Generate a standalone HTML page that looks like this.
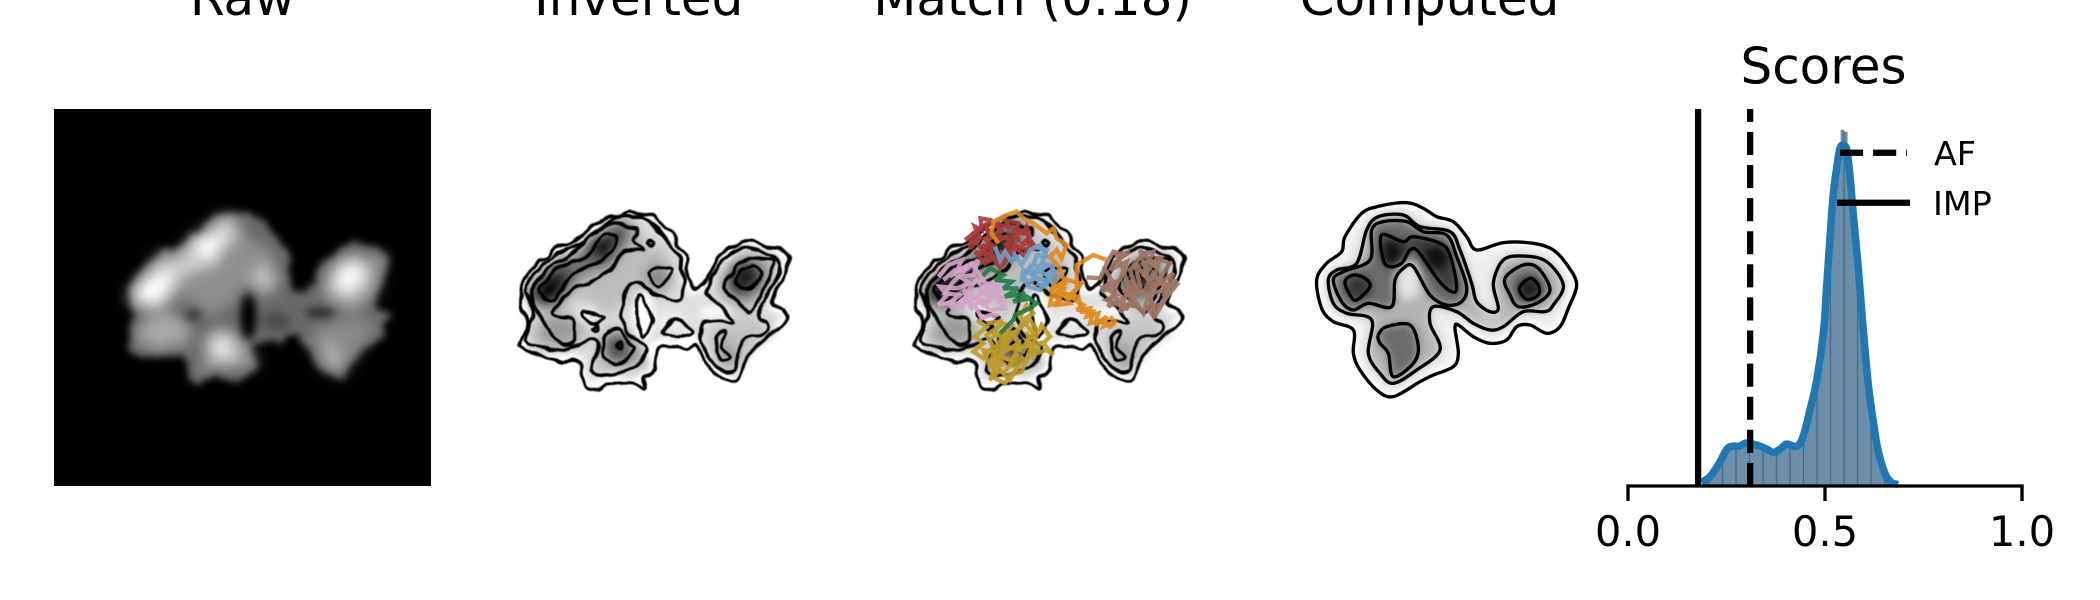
<!DOCTYPE html>
<html lang="en">
<head>
<meta charset="utf-8">
<title>Density map comparison</title>
<style>
html,body{margin:0;padding:0;background:#fff;width:2100px;height:600px;overflow:hidden}
svg{display:block}
text{font-family:"DejaVu Sans","Liberation Sans",sans-serif;fill:#000}
.ct{fill:none;stroke:#000;stroke-width:10;stroke-linejoin:round}
.tr{fill:none;stroke-width:13;stroke-linejoin:miter;stroke-miterlimit:3;opacity:.9}
</style>
</head>
<body>
<svg id="figure" xmlns="http://www.w3.org/2000/svg" width="2100" height="600" viewBox="0 0 2100 600">
<defs>
  <filter id="blur-edge" filterUnits="userSpaceOnUse" x="-1000" y="-1000" width="6000" height="4000" color-interpolation-filters="sRGB">
    <feTurbulence type="fractalNoise" baseFrequency="0.025" numOctaves="2" seed="4" result="n"/>
    <feDisplacementMap in="SourceGraphic" in2="n" scale="50" xChannelSelector="R" yChannelSelector="G"/>
    <feGaussianBlur stdDeviation="11"/>
  </filter>
  <filter id="blur-light" filterUnits="userSpaceOnUse" x="-1000" y="-1000" width="6000" height="4000" color-interpolation-filters="sRGB">
    <feTurbulence type="fractalNoise" baseFrequency="0.022" numOctaves="2" seed="9" result="n"/>
    <feDisplacementMap in="SourceGraphic" in2="n" scale="70" xChannelSelector="R" yChannelSelector="G"/>
    <feGaussianBlur stdDeviation="22"/>
  </filter>
  <filter id="blur-dark" filterUnits="userSpaceOnUse" x="-1000" y="-1000" width="6000" height="4000" color-interpolation-filters="sRGB"><feGaussianBlur stdDeviation="13"/></filter>
  <filter id="blur-comp" filterUnits="userSpaceOnUse" x="-1000" y="-1000" width="6000" height="4000" color-interpolation-filters="sRGB"><feGaussianBlur stdDeviation="14"/></filter>
  <filter id="wiggle" filterUnits="userSpaceOnUse" x="-100" y="-100" width="1300" height="1000" color-interpolation-filters="sRGB">
    <feTurbulence type="fractalNoise" baseFrequency="0.028" numOctaves="1" seed="7" result="n"/>
    <feDisplacementMap in="SourceGraphic" in2="n" scale="20" xChannelSelector="R" yChannelSelector="G"/>
    <feGaussianBlur stdDeviation="1.4"/>
  </filter>
  <filter id="invert-map" filterUnits="userSpaceOnUse" x="-2000" y="-500" width="6000" height="2000" color-interpolation-filters="sRGB">
    <feComponentTransfer>
      <feFuncR type="gamma" amplitude="-1" exponent="2.3" offset="1"/>
      <feFuncG type="gamma" amplitude="-1" exponent="2.3" offset="1"/>
      <feFuncB type="gamma" amplitude="-1" exponent="2.3" offset="1"/>
    </feComponentTransfer>
  </filter>
  <g id="density-map">
    <rect x="54" y="109" width="377" height="377" fill="#000"/>
    <g transform="scale(.33333)">
      <g filter="url(#blur-edge)">
        <polygon fill="#686868" points="385,870 420,810 480,755 560,725 600,685 660,650 710,640 780,655 830,710 870,770 865,840 895,880 930,870 960,790 1020,755 1080,730 1165,765 1150,830 1125,930 1165,950 1150,1000 1100,1040 1050,1090 1020,1135 960,1110 920,1040 900,1000 850,1025 780,1030 750,1020 770,1100 720,1140 620,1130 590,1160 560,1090 540,1065 440,1070 385,1045 395,960 395,900"/>
      </g>
      <g filter="url(#blur-light)">
        <polygon fill="#8e8e8e" points="420,850 600,700 720,680 830,780 830,880 740,860 650,950 560,900 420,920"/>
        <polyline fill="none" stroke="#cfcfcf" stroke-width="85" stroke-linecap="round" points="440,880 520,810 610,750 680,695"/>
        <ellipse cx="465" cy="868" rx="52" ry="42" fill="#fff" transform="rotate(-30 465 868)"/>
        <ellipse cx="625" cy="735" rx="48" ry="46" fill="#fff"/>
        <polygon fill="#a2a2a2" points="960,830 1040,770 1150,770 1130,880 1060,930 980,910"/>
        <ellipse cx="1052" cy="835" rx="42" ry="62" fill="#f6f6f6" transform="rotate(35 1052 835)"/>
        <polygon fill="#8a8a8a" points="930,970 1130,960 1090,1030 1020,1110 960,1090"/>
        <ellipse cx="985" cy="1070" rx="24" ry="36" fill="#c4c4c4"/>
        <polygon fill="#a0a0a0" points="640,990 720,1000 760,1090 590,1120"/>
        <ellipse cx="670" cy="1040" rx="38" ry="52" fill="#e6e6e6"/>
        <ellipse cx="490" cy="990" rx="82" ry="52" fill="#aaa"/>
        <ellipse cx="790" cy="830" rx="40" ry="44" fill="#c0c0c0"/>
      </g>
      <g filter="url(#blur-dark)">
        <ellipse cx="745" cy="950" rx="24" ry="70" fill="#000"/>
        <ellipse cx="580" cy="945" rx="26" ry="16" fill="#3a3a3a"/>
        <ellipse cx="960" cy="938" rx="46" ry="15" fill="#2c2c2c"/>
        <ellipse cx="830" cy="965" rx="44" ry="30" fill="#4e4e4e"/>
      </g>
    </g>
  </g>
  <g id="inverted-contours" filter="url(#wiggle)">
    <path class="ct" data-pts="90,320 105,295 140,250 165,235 200,205 240,190 270,172 300,145 350,112 385,110 420,95 455,105 490,105 520,140 550,160 565,195 590,235 590,290 615,325 650,300 670,260 700,215 745,195 780,180 830,200 870,205 895,235 880,290 860,325 850,370 885,395 890,420 860,450 810,490 770,530 750,590 720,600 680,585 650,555 620,500 590,505 550,500 500,510 495,570 465,590 460,625 430,610 380,610 345,615 320,630 290,620 275,590 265,540 210,545 160,530 130,520 95,505 90,490 115,425 95,385 95,345"/>
    <path class="ct" data-pts="108,320 150,262 210,218 285,182 360,122 420,110 480,125 530,180 570,240 580,345 550,360 490,340 440,305 410,330 395,400 420,465 470,500 455,540 400,575 340,585 305,570 325,500 300,480 220,510 160,500 110,480 130,400 110,345"/>
    <path class="ct" data-pts="650,330 700,240 770,205 860,240 870,270 840,330 805,410 835,430 825,460 760,480 730,570 680,560 640,500 635,460 650,420 730,425 660,350"/>
    <path class="ct" data-pts="125,330 170,270 240,225 310,160 370,132 440,150 430,180 460,210 400,215 360,270 300,310 250,325 190,390 210,410 250,420 250,485 210,490 170,440 130,370"/>
    <path class="ct" data-pts="150,320 220,255 290,230 340,165 375,170 370,210 320,250 250,280 190,360 155,345"/>
    <path class="ct" data-pts="705,310 760,240 830,240 850,255 810,350 780,395 740,360 710,340"/>
    <path class="ct" data-pts="735,295 785,258 815,285 770,330"/>
    <path class="ct" data-pts="345,470 385,445 420,490 430,510 385,550 340,530"/>
    <path class="ct" data-pts="380,498 395,490 395,505"/>
    <path class="ct" data-pts="480,280 510,265 545,270 520,315 495,315"/>
    <path class="ct" data-pts="474,190 482,184 491,192 484,201"/>
    <path class="ct" data-pts="525,450 555,415 610,455 565,470 525,460"/>
    <path class="ct" data-pts="680,470 705,460 695,500 720,530 700,545 685,520"/>
    <path class="ct" data-pts="440,360 455,352 475,390 490,430 460,470 445,440"/>
    <path class="ct" data-pts="280,395 340,410 320,430 285,415"/>
    <path class="ct" data-pts="308,445 320,438 322,450 312,452"/>
  </g>
</defs>

<text x="242.5" y="15" font-size="50" text-anchor="middle">Raw</text>
<text x="638.7" y="15" font-size="50" text-anchor="middle">Inverted</text>
<text x="1032.6" y="15" font-size="50" text-anchor="middle">Match (0.18)</text>
<text x="1429.5" y="15" font-size="50" text-anchor="middle">Computed</text>
<text x="1823.5" y="83.5" font-size="50" text-anchor="middle">Scores</text>

<g><use href="#density-map"/></g>

<g>
  <g transform="translate(395,0)" filter="url(#invert-map)"><use href="#density-map"/></g>
  <g transform="translate(490,180) scale(.33333)"><use href="#inverted-contours"/></g>
</g>

<g>
  <g transform="translate(790,0)" filter="url(#invert-map)"><use href="#density-map"/></g>
  <g transform="translate(885,180) scale(.33333)"><use href="#inverted-contours"/></g>
  <g transform="translate(890,180) scale(.33333)">
    <polyline class="tr" stroke="#bc9a28" points="260,420 290,440 255,470 280,490 250,515 280,535 310,500 290,465 340,430 360,440 325,470 370,460 345,500 390,510 375,470 400,420 430,400 410,375 390,410 430,460 410,490 440,520 470,510 490,525 460,490 480,470 455,435 420,510 395,575 360,585 345,610 315,595 310,565 340,550 310,525 360,540 385,520 340,580 300,545 325,490 370,430"/>
    <polyline class="tr" stroke="#bc9a28" points="290,430 330,425 310,470 355,450 335,520 385,490 365,560 400,530 360,600 330,570 300,600 330,520 280,510 300,560 345,480 395,440 420,420 440,450 400,500 450,490 430,530 410,455"/>
    <polyline class="tr" stroke="#217c48" points="275,290 300,265 340,285 315,300 365,305 340,325 385,325 345,350 405,340 370,365 420,355 400,345 440,370 420,385 375,405 370,420 330,460"/>
    <polyline class="tr" stroke="#d4a2c8" points="145,290 175,255 215,240 200,275 235,260 265,240 250,285 210,290 240,310 200,325 150,320 170,345 145,375 190,365 180,385 225,355 245,385 270,360 300,390 345,385 320,345 330,320 290,310 270,335 305,350 280,375 240,340 220,330 265,395 275,415 300,405 325,405"/>
    <polyline class="tr" stroke="#d4a2c8" points="160,300 195,270 225,270 190,305 165,340 210,345 175,370 215,385 235,330 260,300 285,330 255,355 295,365 320,330 340,365 300,330 245,250 215,265 180,290"/>
    <polyline class="tr" stroke="#a83a3a" points="225,180 245,165 240,205 270,175 255,140 275,150 272,115 300,120 290,145 310,165 285,175 305,195 270,200 290,225 255,215 285,250 310,235 330,265 350,240 330,215 365,230 345,190 375,205 350,165 385,180 370,145 400,160 410,140 420,170 395,195 430,185 410,210 375,195 345,170 320,185 335,150 310,130"/>
    <polyline class="tr" stroke="#a83a3a" points="240,175 265,190 250,160 285,135 300,170 330,155 320,130 360,145 345,120 385,130 375,165 405,150 430,200 400,225 380,205 350,215 320,245 300,215 320,200 280,205 300,240"/>
    <polyline class="tr" stroke="#6fa0c8" points="315,200 330,240 345,215 365,245 375,225 395,255 410,230 420,210 450,195 470,230 440,225 430,255 460,265 430,285 400,270 395,300 425,305 440,270 470,285 495,270 465,320 440,310"/>
    <polyline class="tr" stroke="#6fa0c8" points="430,200 470,210 455,250 490,260 470,300 440,295 420,260 400,290 415,320 450,330 470,300"/>
    <polyline class="tr" stroke="#e08a1e" points="325,190 305,160 310,125 350,105 380,95 400,115 430,130 470,160 490,145 500,175 530,195 515,235 500,210 480,230 510,265 525,310 490,320 480,375 510,365 490,340 540,345 560,325 560,255 610,225 650,240"/>
    <polyline class="tr" stroke="#e08a1e" points="480,330 530,300 575,310 540,350 580,375 560,390 600,385 590,410 625,400 615,435 650,410 640,440 675,425 660,410"/>
    <polyline class="tr" stroke="#e08a1e" points="500,335 525,320 500,375 540,370 520,340 565,350 575,395 610,395 600,430 640,420 660,440 675,430"/>
    <polyline class="tr" stroke="#9d7565" points="590,292 630,295 650,250 670,215 700,225 660,270 710,245 690,300 640,320 680,345 650,360 710,385 740,330 720,270 760,220 790,215 760,290 800,235 840,250 800,310 860,315 810,375 770,380 795,415 780,340 830,330 790,280 760,340 700,330 745,380 680,370 670,300"/>
    <polyline class="tr" stroke="#9d7565" points="640,260 665,300 635,335 680,315 655,380 705,350 690,395 735,365 720,300 755,340 735,250 775,300 750,210 800,265 815,225 780,330 850,280 820,350 860,300 800,400 775,350 760,400 720,340 700,270 680,225 720,215 670,250"/>
  </g>
</g>

<g transform="translate(1290,180) scale(.33333)">
  <g filter="url(#blur-comp)">
    <path fill="#ececec" data-pts="95,300 120,262 165,225 175,175 220,112 270,90 350,80 395,97 435,122 485,138 520,182 555,222 640,200 730,202 785,222 825,268 845,315 825,378 800,430 770,447 720,425 680,428 645,470 600,478 555,458 505,425 485,445 492,520 480,550 425,575 385,595 310,635 265,618 220,565 202,515 202,440 135,412 105,378"/>
    <path fill="#b4b4b4" data-pts="115,300 140,270 200,250 230,150 265,110 340,105 390,140 480,155 510,210 545,310 560,365 600,395 625,385 610,310 640,240 700,228 770,245 820,315 790,375 765,395 700,395 640,440 600,450 550,430 500,395 430,380 420,430 450,510 380,570 310,610 270,580 235,520 245,420 170,400 130,370"/>
    <path fill="#6c6c6c" data-pts="130,300 160,275 240,240 245,150 280,125 350,125 400,155 470,165 500,230 530,320 515,365 470,375 420,345 370,260 340,265 315,300 305,380 235,370 190,390 155,365"/>
    <ellipse cx="355" cy="300" rx="40" ry="60" fill="#e4e4e4"/>
    <ellipse cx="375" cy="400" rx="45" ry="35" fill="#b2b2b2"/>
    <path fill="#7a7a7a" data-pts="645,295 700,255 745,265 780,330 740,370 685,380 660,345"/>
    <path fill="#6c6c6c" data-pts="265,465 290,440 360,435 385,500 370,550 310,590 295,520 270,490"/>
    <path fill="#3a3a3a" data-pts="275,165 340,185 370,170 450,190 480,225 500,320 485,335 445,300 385,215 360,210 335,250 300,260 280,240"/>
    <ellipse cx="305" cy="220" rx="32" ry="38" fill="#111"/>
    <ellipse cx="440" cy="232" rx="42" ry="36" fill="#111"/>
    <ellipse cx="205" cy="322" rx="38" ry="38" fill="#333"/>
    <ellipse cx="718" cy="326" rx="36" ry="36" fill="#1c1c1c"/>
    <ellipse cx="600" cy="420" rx="40" ry="22" fill="#c8c8c8"/>
  </g>
  <path class="ct" data-pts="80,300 110,250 155,215 165,170 215,100 270,78 350,68 400,85 440,110 490,125 530,170 560,210 640,188 730,190 790,210 835,260 860,315 835,385 810,440 770,460 720,435 680,440 650,480 600,490 550,470 505,435 495,445 505,520 490,560 430,585 390,605 310,650 260,630 210,570 190,520 190,450 130,425 95,385"/>
  <path class="ct" data-pts="115,300 140,270 200,250 230,150 265,110 340,105 390,140 480,155 510,210 545,310 560,365 600,395 625,385 610,310 640,240 700,228 770,245 820,315 790,375 765,395 700,395 640,440 600,450 550,430 500,395 430,380 420,430 450,510 380,570 310,610 270,580 235,520 245,420 170,400 130,370"/>
  <path class="ct" data-pts="130,300 160,275 240,240 245,150 280,125 350,125 400,155 470,165 500,230 530,320 515,365 470,375 420,345 370,260 340,265 315,300 305,380 235,370 190,390 155,365"/>
  <path class="ct" data-pts="645,295 700,255 745,265 780,330 740,370 685,380 660,345"/>
  <path class="ct" data-pts="265,465 290,440 360,435 385,500 370,550 310,590 295,520 270,490"/>
  <path class="ct" data-pts="275,165 340,185 370,170 450,190 480,225 500,320 485,335 445,300 385,215 360,210 335,250 300,260 280,240"/>
  <path class="ct" data-pts="165,305 190,285 225,295 240,320 200,360 180,345"/>
  <path class="ct" data-pts="688,325 720,295 745,315 745,345 710,358"/>
</g>

<g id="scores-chart"></g>
</svg>

<script>
// Scores chart data
const histBinStart = 0.1884;
const histBinWidth = 0.008566;
const histDensity = [0.08,0.15,0.28,0.40,0.52,0.68,0.86,0.98,1.05,1.12,1.10,1.12,1.15,1.22,1.14,1.12,1.18,1.08,1.02,0.96,0.90,0.88,0.95,1.02,1.20,1.14,1.12,0.95,1.10,1.25,1.48,1.70,2.05,2.50,3.00,3.80,4.75,6.00,7.20,8.20,8.90,9.45,9.40,8.60,7.90,6.50,5.40,4.50,3.40,2.60,2.05,1.50,1.00,0.60,0.30,0.20,0.10];
const kdeScores = [0.187,0.208,0.229,0.250,0.263,0.284,0.301,0.331,0.352,0.369,0.386,0.403,0.428,0.444,0.462,0.479,0.496,0.504,0.513,0.521,0.530,0.538,0.547,0.555,0.563,0.572,0.585,0.597,0.610,0.622,0.6345,0.652,0.6675,0.685];
const kdeDensity = [0.09,0.25,0.56,0.96,1.05,1.06,1.14,1.07,0.98,0.89,0.98,1.11,1.05,1.30,2.02,2.81,4.07,5.27,6.63,7.74,8.46,8.96,9.03,8.92,8.28,7.18,5.72,4.16,2.69,1.75,0.95,0.34,0.10,0.04];
const afScore = 0.31;
const impScore = 0.178;
const tickValues = [0, 0.5, 1];
const tickLabels = ['0.0', '0.5', '1.0'];
const legendLabels = ['AF', 'IMP'];

const NS = 'http://www.w3.org/2000/svg';
function xScale(v) { return 1628 + v * 394; }
function yScale(d) { return 486 - d * 37.7; }
function mk(tag, attrs, parent) {
  const el = document.createElementNS(NS, tag);
  for (const k in attrs) el.setAttribute(k, attrs[k]);
  parent.appendChild(el);
  return el;
}
function closedSpline(p) {
  const n = p.length;
  let d = 'M' + p[0][0] + ' ' + p[0][1];
  for (let i = 0; i < n; i++) {
    const a = p[(i - 1 + n) % n], b = p[i], c = p[(i + 1) % n], e = p[(i + 2) % n];
    d += 'C' + (b[0] + (c[0] - a[0]) / 6).toFixed(1) + ' ' + (b[1] + (c[1] - a[1]) / 6).toFixed(1) + ' ' +
         (c[0] - (e[0] - b[0]) / 6).toFixed(1) + ' ' + (c[1] - (e[1] - b[1]) / 6).toFixed(1) + ' ' + c[0] + ' ' + c[1];
  }
  return d + 'Z';
}
function openSpline(p) {
  let d = 'M' + p[0][0].toFixed(1) + ' ' + p[0][1].toFixed(1);
  for (let i = 0; i < p.length - 1; i++) {
    const a = p[Math.max(i - 1, 0)], b = p[i], c = p[i + 1], e = p[Math.min(i + 2, p.length - 1)];
    d += 'C' + (b[0] + (c[0] - a[0]) / 6).toFixed(1) + ' ' + (b[1] + (c[1] - a[1]) / 6).toFixed(1) + ' ' +
         (c[0] - (e[0] - b[0]) / 6).toFixed(1) + ' ' + (c[1] - (e[1] - b[1]) / 6).toFixed(1) + ' ' + c[0].toFixed(1) + ' ' + c[1].toFixed(1);
  }
  return d;
}
document.querySelectorAll('path[data-pts]').forEach(function (el) {
  const pts = el.getAttribute('data-pts').trim().split(/\s+/).map(function (s) { return s.split(',').map(Number); });
  el.setAttribute('d', closedSpline(pts));
  el.removeAttribute('data-pts');
});

const chart = document.getElementById('scores-chart');

histDensity.forEach(function (d, i) {
  const x0 = xScale(histBinStart + i * histBinWidth);
  const x1 = xScale(histBinStart + (i + 1) * histBinWidth);
  const bar = mk('rect', {x: x0, y: yScale(d), width: x1 - x0 + 0.2, height: yScale(0) - yScale(d), fill: '#6a8ea9'}, chart);
  
  
  if (i % 4 === 2) {
    const edge = mk('rect', {x: x0 - 0.6, y: yScale(d), width: 1.3, height: yScale(0) - yScale(d), fill: '#4d6a80'}, chart);
    
    
  }
});

const kdePts = kdeScores.map(function (s, i) { return [xScale(s), yScale(kdeDensity[i])]; });
const kdeLine = mk('path', {d: openSpline(kdePts), fill: 'none', stroke: '#1f77b4', 'stroke-width': 7.5, 'stroke-linejoin': 'round'}, chart);



const impLine = mk('line', {x1: xScale(impScore), x2: xScale(impScore), y1: 486, y2: 109, stroke: '#000', 'stroke-width': 6.25}, chart);


const afLine = mk('line', {x1: xScale(afScore), x2: xScale(afScore), y1: 486, y2: 109, stroke: '#000', 'stroke-width': 6.25, 'stroke-dasharray': '23.1 10'}, chart);



const axisLine = mk('line', {x1: xScale(0) - 1.67, x2: xScale(1) + 1.67, y1: 486, y2: 486, stroke: '#000', 'stroke-width': 3.33}, chart);



tickValues.forEach(function (v, i) {
  const tick = mk('line', {x1: xScale(v), x2: xScale(v), y1: 486, y2: 501, stroke: '#000', 'stroke-width': 3.33}, chart);
  
  
  const lab = mk('text', {x: xScale(v), y: 545.8, 'font-size': 41.67, 'text-anchor': 'middle'}, chart);
  lab.textContent = tickLabels[i];
  
  
});

const afKey = mk('line', {x1: 1840, x2: 1907, y1: 152.7, y2: 152.7, stroke: '#000', 'stroke-width': 6.25, 'stroke-dasharray': '23.1 10'}, chart);


const impKey = mk('line', {x1: 1837, x2: 1910, y1: 202.7, y2: 202.7, stroke: '#000', 'stroke-width': 6.25}, chart);


const afText = mk('text', {x: 1934, y: 165, 'font-size': 33.33}, chart);
afText.textContent = legendLabels[0];


const impText = mk('text', {x: 1933, y: 215, 'font-size': 33.33}, chart);
impText.textContent = legendLabels[1];


</script>
</body>
</html>
